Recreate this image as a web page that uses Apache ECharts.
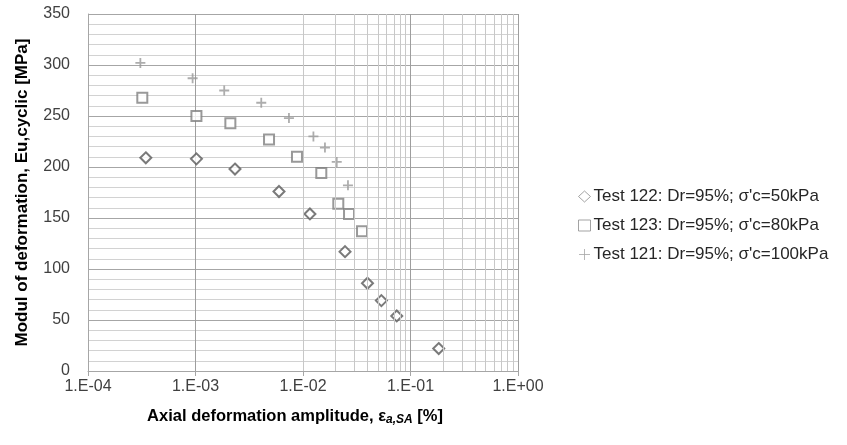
<!DOCTYPE html>
<html>
<head>
<meta charset="utf-8">
<script src="https://cdn.jsdelivr.net/npm/echarts@6/dist/echarts.min.js"></script>
<style>
  html, body { margin: 0; padding: 0; background: #fff; }
  #chart { width: 847px; height: 445px; }
</style>
</head>
<body>
<div id="chart"></div>
<script>
// Test 122: Dr=95%; σ'c=50kPa
var strain122 = [3.45e-4, 1.02e-3, 2.33e-3, 5.98e-3, 1.16e-2, 2.46e-2, 3.98e-2, 5.36e-2, 7.45e-2, 1.83e-1];
var modul122  = [209, 208, 198, 176, 154, 117, 86, 69, 54, 22];
// Test 123: Dr=95%; σ'c=80kPa
var strain123 = [3.2e-4, 1.02e-3, 2.11e-3, 4.83e-3, 8.79e-3, 1.48e-2, 2.13e-2, 2.68e-2, 3.54e-2];
var modul123  = [268, 250, 243, 227, 210, 194, 164, 154, 137];
// Test 121: Dr=95%; σ'c=100kPa
var strain121 = [3.07e-4, 9.4e-4, 1.85e-3, 4.09e-3, 7.4e-3, 1.25e-2, 1.6e-2, 2.06e-2, 2.62e-2];
var modul121  = [302, 287, 275, 263, 248, 230, 219, 205, 182];

var seriesNames = [
  "Test 122: Dr=95%; σ'c=50kPa",
  "Test 123: Dr=95%; σ'c=80kPa",
  "Test 121: Dr=95%; σ'c=100kPa"
];

// minor vertical grid lines (2..9 in each decade)
var decades = [1e-4, 1e-3, 1e-2, 1e-1];
var mults = [2, 3, 4, 5, 6, 7, 8, 9];
var minorX = [];
decades.forEach(function (d) {
  mults.forEach(function (m) { minorX.push({ xAxis: +(d * m).toPrecision(3) }); });
});

function pairs(xs, ys) {
  return xs.map(function (x, i) { return [x, ys[i]]; });
}

var plusPath = 'path://M0,5L10,5M5,0L5,10';

var chart = echarts.init(document.getElementById('chart'));
chart.setOption({
  animation: false,
  backgroundColor: '#fff',
  grid: { left: 88, right: 329, top: 14, bottom: 74 },
  legend: {
    orient: 'vertical',
    left: 573,
    top: 183,
    itemGap: 12,
    itemWidth: 12,
    itemHeight: 11,
    textStyle: { fontFamily: 'Liberation Sans', fontSize: 17, color: '#262626', padding: [0, 0, 0, -2] },
    data: [
      { name: seriesNames[0], icon: 'diamond', itemStyle: { color: '#fff', borderColor: '#8c8c8c', borderWidth: 1 } },
      { name: seriesNames[1], icon: 'rect', itemStyle: { color: '#fff', borderColor: '#8c8c8c', borderWidth: 1 } },
      { name: seriesNames[2], icon: plusPath, itemStyle: { color: 'transparent', borderColor: '#a6a6a6', borderWidth: 1 } }
    ]
  },
  xAxis: {
    type: 'log',
    logBase: 10,
    min: 1e-4,
    max: 1,
    name: "{b|Axial deformation amplitude, ε}{sub|a,SA}{b| [%]}",
    nameLocation: 'middle',
    nameGap: 36,
    nameTextStyle: {
      padding: [0, 16, 0, 0],
      rich: {
        b: { fontFamily: 'Liberation Sans', fontSize: 16.5, fontWeight: 'bold', color: '#000' },
        sub: { fontFamily: 'Liberation Sans', fontSize: 12, fontWeight: 'bold', fontStyle: 'italic', color: '#000', padding: [7, 0, 0, 0] }
      }
    },
    axisLine: { show: true, lineStyle: { color: '#a6a6a6', width: 1 } },
    axisTick: { show: true, length: 5, lineStyle: { color: '#a6a6a6' } },
    axisLabel: {
      margin: 8,
      fontFamily: 'Liberation Sans',
      fontSize: 16,
      color: '#404040',
      formatter: function (v) {
        var e = Math.round(Math.log10(v));
        return '1.E' + (e < 0 ? '-' : '+') + String(Math.abs(e)).padStart(2, '0');
      }
    },
    splitLine: { show: true, lineStyle: { color: '#9e9e9e', width: 1 } }
  },
  yAxis: {
    type: 'value',
    min: 0,
    max: 350,
    interval: 50,
    name: 'Modul of deformation, Eu,cyclic [MPa]',
    nameLocation: 'middle',
    nameGap: 57,
    nameTextStyle: { fontFamily: 'Liberation Sans', fontSize: 17, fontWeight: 'bold', color: '#000' },
    axisLine: { show: true, lineStyle: { color: '#a6a6a6', width: 1 } },
    axisTick: { show: false },
    axisLabel: { margin: 18, fontFamily: 'Liberation Sans', fontSize: 16, color: '#404040' },
    splitLine: { show: true, lineStyle: { color: '#a6a6a6', width: 1 } },
    minorTick: { show: false, splitNumber: 5 },
    minorSplitLine: { show: true, lineStyle: { color: '#d2d2d2', width: 1 } }
  },
  series: [
    {
      type: 'scatter',
      name: '_minor',
      data: [],
      silent: true,
      z: 1,
      markLine: {
        silent: true,
        symbol: 'none',
        label: { show: false },
        lineStyle: { color: '#c8c8c8', type: 'solid', width: 1 },
        emphasis: { disabled: true },
        data: minorX
      }
    },
    {
      type: 'scatter',
      name: seriesNames[0],
      z: 3,
      symbol: 'diamond',
      symbolSize: 11,
      itemStyle: { color: '#fff', borderColor: '#595959', borderWidth: 2 },
      data: pairs(strain122, modul122)
    },
    {
      type: 'scatter',
      name: seriesNames[1],
      z: 3,
      symbol: 'rect',
      symbolSize: 10,
      itemStyle: { color: '#fff', borderColor: '#808080', borderWidth: 2 },
      data: pairs(strain123, modul123)
    },
    {
      type: 'scatter',
      name: seriesNames[2],
      z: 3,
      symbol: plusPath,
      symbolSize: 10,
      itemStyle: { color: 'transparent', borderColor: '#999999', borderWidth: 1.8 },
      data: pairs(strain121, modul121)
    }
  ]
});
</script>
</body>
</html>
